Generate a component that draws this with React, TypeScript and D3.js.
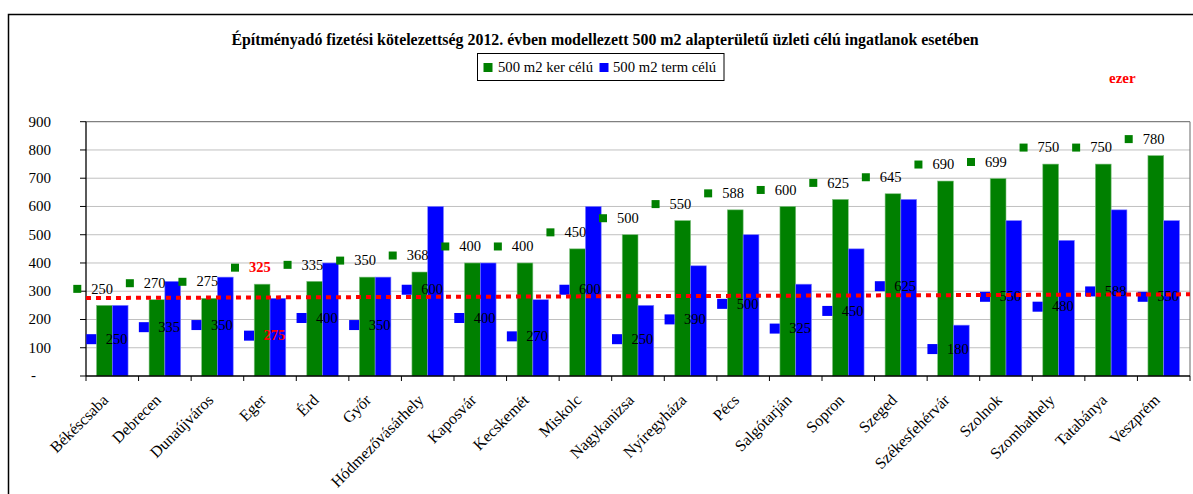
import React from "react";
import * as d3 from "d3";

const categories = [
  "Békéscsaba", "Debrecen", "Dunaújváros", "Eger", "Érd", "Győr", "Hódmezővásárhely",
  "Kaposvár", "Kecskemét", "Miskolc", "Nagykanizsa", "Nyíregyháza", "Pécs", "Salgótarján",
  "Sopron", "Szeged", "Székesfehérvár", "Szolnok", "Szombathely", "Tatabánya", "Veszprém",
];
const kerValues = [250, 270, 275, 325, 335, 350, 368, 400, 400, 450, 500, 550, 588, 600, 625, 645, 690, 699, 750, 750, 780];
const termValues = [250, 335, 350, 275, 400, 350, 600, 400, 270, 600, 250, 390, 500, 325, 450, 625, 180, 550, 480, 588, 550];
const highlightCategory = "Eger";
const trendValues = [276, 289];
const yTicks = [0, 100, 200, 300, 400, 500, 600, 700, 800, 900];
const seriesNames = ["500 m2 ker célú", "500 m2 term célú"];
const title = "Építményadó fizetési kötelezettség 2012. évben modellezett 500 m2 alapterületű üzleti célú ingatlanok esetében";
const unitLabel = "ezer";

const W = 1193, H = 494;
const plot = { left: 86, right: 1190, top: 121.7, bottom: 376 };
const GREEN = "#008000", BLUE = "#0000FF", RED = "#FF0000";
const FONT = "'Liberation Serif', 'DejaVu Serif', serif";

export default function App() {
  const x = d3.scaleBand<string>().domain(categories).range([plot.left, plot.right]).padding(0);
  const y = d3.scaleLinear().domain([0, 900]).range([plot.bottom, plot.top]);
  const bw = x.bandwidth() * 0.3;
  const center = (c: string) => (x(c) as number) + x.bandwidth() / 2;
  const trendLine = d3.line<number>()
    .x((_, i) => (i === 0 ? plot.left : plot.right))
    .y((v) => y(v));

  return (
    <svg width={W} height={H} style={{ position: "absolute", left: 0, top: 0, background: "#fff", fontFamily: FONT }}>
      <style>{`text { font-family: ${FONT}; }`}</style>
      <rect x={0} y={0} width={W} height={H} fill="#fff" />
      <rect x={8.5} y={14.5} width={W + 20} height={H + 20} fill="none" stroke="#000" strokeWidth={1.5} />
      <text x={605} y={45} textAnchor="middle" fontWeight="bold" fontSize={15.9}>{title}</text>

      {/* legend */}
      <g>
        <rect x={477.5} y={53.5} width={246.5} height={27} fill="#fff" stroke="#000" strokeWidth={1} />
        <rect x={483.5} y={63} width={9} height={9} fill={GREEN} />
        <text x={498} y={72} fontSize={14.7}>{seriesNames[0]}</text>
        <rect x={599.5} y={63} width={9} height={9} fill={BLUE} />
        <text x={613} y={72} fontSize={14.7}>{seriesNames[1]}</text>
      </g>
      <text x={1109} y={83} fill={RED} fontWeight="bold" fontSize={15}>{unitLabel}</text>

      {/* gridlines */}
      {yTicks.filter((t) => t > 0 && t < 900).map((t) => (
        <line key={t} x1={plot.left} x2={plot.right} y1={y(t)} y2={y(t)} stroke="#c0c0c0" strokeWidth={1} />
      ))}
      <line x1={plot.left} x2={plot.right} y1={y(900)} y2={y(900)} stroke="#808080" strokeWidth={1.2} />
      <line x1={plot.right} x2={plot.right} y1={plot.top} y2={plot.bottom} stroke="#808080" strokeWidth={1.2} />

      {/* y axis */}
      {yTicks.map((t) => (
        <g key={t}>
          <line x1={80} x2={plot.left} y1={y(t)} y2={y(t)} stroke="#000" />
          {t === 0 ? (
            <text x={31} y={y(t) + 4} fontSize={15}>-</text>
          ) : (
            <text x={51} y={y(t) + 5} fontSize={15} textAnchor="end">{t}</text>
          )}
        </g>
      ))}

      {/* bars */}
      {categories.map((c, i) => (
        <g key={c}>
          <rect x={center(c) - bw} y={y(kerValues[i])} width={bw} height={plot.bottom - y(kerValues[i])} fill={GREEN} stroke="#7fc07f" strokeWidth={0.6} />
          <rect x={center(c)} y={y(termValues[i])} width={bw} height={plot.bottom - y(termValues[i])} fill={BLUE} stroke="#8080ff" strokeWidth={0.6} />
        </g>
      ))}

      {/* axes lines */}
      <line x1={plot.left} x2={plot.left} y1={plot.top} y2={plot.bottom} stroke="#000" strokeWidth={1.3} />
      <line x1={plot.left} x2={plot.right} y1={plot.bottom} y2={plot.bottom} stroke="#000" strokeWidth={1.3} />
      {categories.concat([""]).map((c, i) => {
        const xx = plot.left + i * x.bandwidth();
        return <line key={"t" + i} x1={xx} x2={xx} y1={plot.bottom} y2={plot.bottom + 5} stroke="#000" />;
      })}

      {/* x labels */}
      {categories.map((c) => (
        <text key={c} transform={`translate(${center(c) - 3},${401}) rotate(-45)`} textAnchor="end" fontSize={16}>{c}</text>
      ))}

      {/* data labels */}
      {categories.map((c, i) => {
        const cx = center(c);
        const hl = c === highlightCategory;
        const gy = y(kerValues[i]) - 16.5;
        const by = (plot.bottom + y(termValues[i])) / 2 - 1.5;
        return (
          <g key={"l" + c}>
            <rect x={cx - 39} y={gy - 4} width={8} height={8} fill={GREEN} />
            <text x={cx - 21} y={gy + 4.7} fontSize={14.5} fill={hl ? RED : "#000"} fontWeight={hl ? "bold" : "normal"}>{kerValues[i]}</text>
            <rect x={cx - 26} y={by - 5} width={10} height={10} fill={BLUE} />
            <text x={cx - 6.5} y={by + 4.7} fontSize={14.5} fill={hl ? RED : "#000"} fontWeight={hl ? "bold" : "normal"}>{termValues[i]}</text>
          </g>
        );
      })}

      {/* trend line */}
      <path d={trendLine(trendValues) || ""} fill="none" stroke={RED} strokeWidth={4} strokeDasharray="5 5" />
    </svg>
  );
}
